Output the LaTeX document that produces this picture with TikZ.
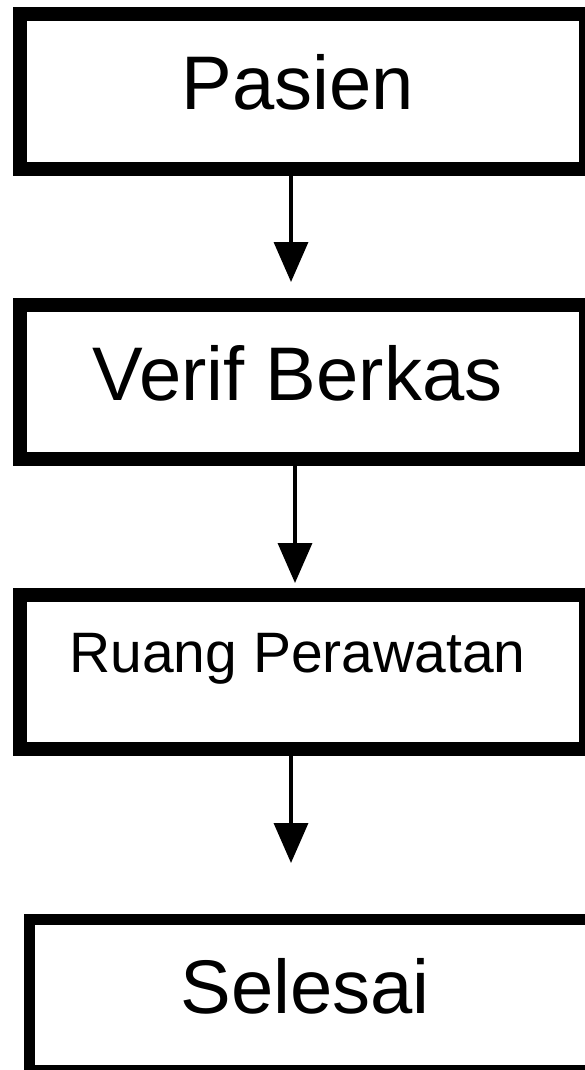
\documentclass[tikz,border=0pt]{standalone}
\usepackage{fontspec}
\setmainfont{Liberation Sans}
\usetikzlibrary{arrows.meta}
\begin{document}
\begin{tikzpicture}[x=1pt,y=-1pt,
  box/.style={draw=black, line width=14pt, rectangle, inner sep=0pt, minimum width=566pt, fill=white},
  big/.style={font=\fontsize{76}{80}\selectfont, text height=54pt, text depth=18pt},
  small/.style={font=\fontsize{57}{60}\selectfont, text height=41pt, text depth=41pt},
  arr/.style={line width=3.5pt, -{Triangle[width=34pt,length=40pt]}}]
\clip (0,0) rectangle (585,1070);
\fill[white] (0,0) rectangle (585,1070);
\node[box,big,minimum height=155pt] (p) at (303,91.5) {\hspace*{-11pt}Pasien};
\node[box,big,minimum height=154pt] (v) at (303,382) {\hspace*{-11pt}Verif Berkas};
\node[box,small,minimum height=154pt] (r) at (303,672) {\hspace*{-11pt}Ruang Perawatan};
\node[box,big,line width=11pt,minimum width=571pt,minimum height=151pt] (s) at (314.5,995) {\hspace*{-19pt}Selesai};
\draw[arr,shorten >=16pt] ([xshift=-12pt]p.south) -- ([xshift=-12pt]v.north);
\draw[arr,shorten >=5pt] ([xshift=-8pt]v.south) -- ([xshift=-8pt]r.north);
\draw[arr,shorten >=51pt] ([xshift=-12pt]r.south) -- ([xshift=-23.5pt]s.north);
\end{tikzpicture}
\end{document}
